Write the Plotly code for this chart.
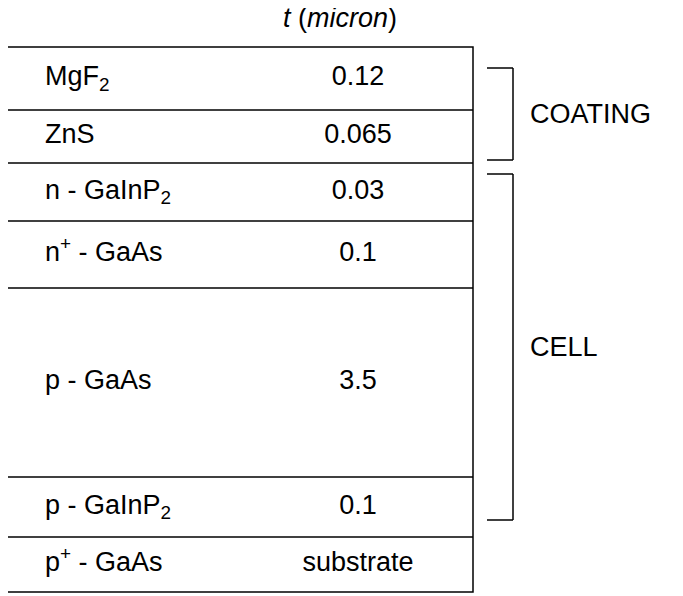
import plotly.graph_objects as go

layers = ["MgF<sub>2</sub>", "ZnS", "n - GaInP<sub>2</sub>", "n<sup>+</sup> - GaAs",
          "p - GaAs", "p - GaInP<sub>2</sub>", "p<sup>+</sup> - GaAs"]
thickness = ["0.12", "0.065", "0.03", "0.1", "3.5", "0.1", "substrate"]
groups = ["COATING", "CELL"]

# layout geometry (pixel-like coordinates)
row_edges = [47, 110, 163, 221, 288, 477, 537, 592]
box_l, box_r = 3, 473
FONT = "Liberation Sans, Arial, sans-serif"
FS = 27
OFF = 8  # page body margin compensation

fig = go.Figure()
shapes = []
shapes.append(dict(type="rect", x0=box_l, x1=box_r, y0=row_edges[0], y1=row_edges[-1],
                   line=dict(color="black", width=1.5)))
for y in row_edges[1:-1]:
    shapes.append(dict(type="line", x0=box_l, x1=box_r, y0=y, y1=y, line=dict(color="black", width=1.5)))
mids = [(row_edges[i] + row_edges[i + 1]) / 2 for i in range(len(layers))]
fig.add_trace(go.Scatter(x=[45] * len(layers), y=mids, text=layers, mode="text",
                         textposition="middle right", textfont=dict(size=FS, family=FONT, color="black"),
                         hoverinfo="skip"))
fig.add_trace(go.Scatter(x=[358] * len(layers), y=mids, text=thickness, mode="text",
                         textposition="middle center", textfont=dict(size=FS, family=FONT, color="black"),
                         hoverinfo="skip"))
br_ranges = [(68, 160), (174, 520)]
for (name, (a, b)) in zip(groups, br_ranges):
    shapes += [dict(type="line", x0=487, x1=513, y0=a, y1=a, line=dict(color="black", width=1.5)),
               dict(type="line", x0=513, x1=513, y0=a, y1=b, line=dict(color="black", width=1.5)),
               dict(type="line", x0=487, x1=513, y0=b, y1=b, line=dict(color="black", width=1.5))]
    fig.add_annotation(x=528, y=(a + b) / 2, text=name, showarrow=False, xanchor="left",
                       font=dict(size=FS, family=FONT, color="black"))
fig.add_annotation(x=340, y=18, text="<i>t</i> (<i>micron</i>)", showarrow=False,
                   font=dict(size=FS, family=FONT, color="black"))
fig.update_layout(width=683, height=596, margin=dict(l=0, r=0, t=0, b=0), showlegend=False,
                  plot_bgcolor="white", paper_bgcolor="white", shapes=shapes,
                  xaxis=dict(range=[OFF, 683 + OFF], visible=False, fixedrange=True),
                  yaxis=dict(range=[596 + OFF, OFF], visible=False, fixedrange=True))
fig.write_html("out.html")
